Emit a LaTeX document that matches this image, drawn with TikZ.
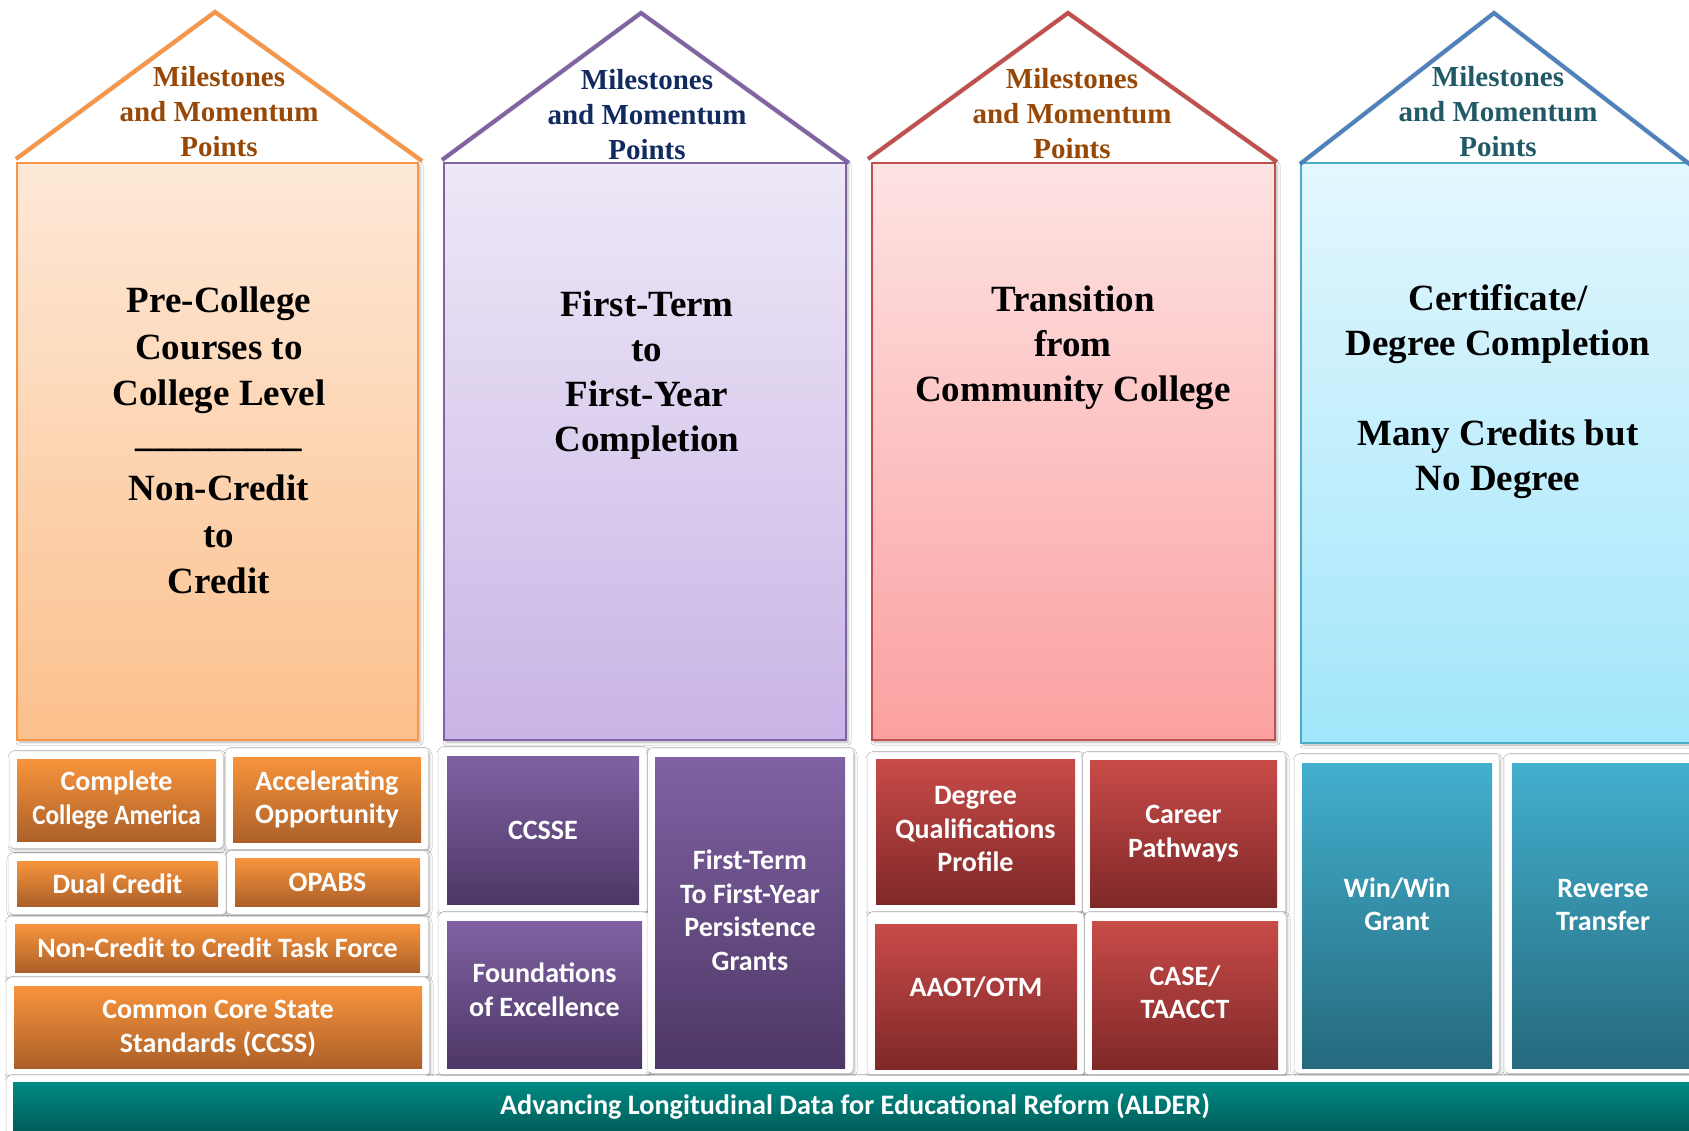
\documentclass[tikz,border=0pt]{standalone}
\usepackage{fontspec}
\setmainfont{Liberation Serif}
\newfontfamily\calfont{Carlito}
\newfontfamily\calcond[FakeStretch=0.9]{Carlito}
\usetikzlibrary{shadows.blur}
\definecolor{orRoof}{HTML}{F79646}
\definecolor{orTop}{HTML}{FEE9D8}
\definecolor{orBot}{HTML}{FBC08C}
\definecolor{puRoof}{HTML}{8064A2}
\definecolor{puTop}{HTML}{EEE8F7}
\definecolor{puBot}{HTML}{C8B4E6}
\definecolor{reRoof}{HTML}{C0504D}
\definecolor{reTop}{HTML}{FEE3E3}
\definecolor{reBot}{HTML}{FBA0A0}
\definecolor{blRoof}{HTML}{4F81BD}
\definecolor{blBorder}{HTML}{4BACC6}
\definecolor{blTop}{HTML}{E3F7FE}
\definecolor{blBot}{HTML}{A2E6FB}
\definecolor{brownTxt}{HTML}{974806}
\definecolor{navyTxt}{HTML}{112B61}
\definecolor{tealTxt}{HTML}{215967}
\definecolor{oT}{HTML}{F8943C}
\definecolor{oB}{HTML}{AC6029}
\definecolor{pT}{HTML}{8062A3}
\definecolor{pB}{HTML}{4D3766}
\definecolor{rT}{HTML}{C84B48}
\definecolor{rB}{HTML}{7F2828}
\definecolor{bT}{HTML}{43AFCE}
\definecolor{bB}{HTML}{256A7D}
\definecolor{aT}{HTML}{008A84}
\definecolor{aB}{HTML}{005F5B}
\tikzset{
  roofline/.style={line width=4pt, line join=miter},
  roofshadow/.style={line width=5pt, black, opacity=0.12, shift={(1.5,3)}},
  housebox/.style={line width=2pt, inner sep=0pt, outer sep=0pt,
     blur shadow={shadow xshift=2pt, shadow yshift=-2pt, shadow blur radius=3pt, shadow opacity=30}},
  rooftext/.style={font={\bfseries\fontsize{29}{35}\selectfont}, align=center},
  maintext/.style={font={\bfseries\fontsize{37}{45}\selectfont}, align=center},
  panel/.style={fill=white, rounded corners=4pt, inner sep=0pt, outer sep=0pt,
     blur shadow={shadow xshift=1pt, shadow yshift=-1.5pt, shadow blur radius=3pt, shadow opacity=35}},
  bbox/.style={inner sep=0pt, outer sep=0pt, text=white, align=center,
     font={\calfont\bfseries\fontsize{28}{33.5}\selectfont}},
  btext/.style={inner sep=0pt, text=white, align=center,
     font={\calfont\bfseries\fontsize{28}{33.5}\selectfont}},
  obox/.style={bbox, top color=oT, bottom color=oB},
  pbox/.style={bbox, top color=pT, bottom color=pB},
  rbox/.style={bbox, top color=rT, bottom color=rB},
  tbox/.style={bbox, top color=bT, bottom color=bB},
  abox/.style={bbox, top color=aT, bottom color=aB, font={\calfont\bfseries\fontsize{28.2}{32}\selectfont}},
}
\begin{document}
\begin{tikzpicture}[x=1pt,y=-1pt]
\useasboundingbox (0,0) rectangle (1689,1131);
\clip (0,0) rectangle (1689,1131);
\fill[white] (0,0) rectangle (1689,1131);

% ---------- house bodies ----------
\node[housebox, draw=orRoof, top color=orTop, bottom color=orBot, minimum width=401, minimum height=577] (h1) at (217.5,451.5) {};
\node[housebox, draw=puRoof, top color=puTop, bottom color=puBot, minimum width=402, minimum height=577] (h2) at (645,451.5) {};
\node[housebox, draw=reRoof, top color=reTop, bottom color=reBot, minimum width=403, minimum height=577] (h3) at (1073.5,451.5) {};
\node[housebox, draw=blBorder, top color=blTop, bottom color=blBot, minimum width=402, minimum height=580] (h4) at (1502,453) {};

% ---------- roofs ----------
\coordinate (r1a) at (16,159);  \coordinate (r1t) at (215,12);  \coordinate (r1b) at (422,161);
\coordinate (r2a) at (442,160); \coordinate (r2t) at (641,13);  \coordinate (r2b) at (849,163);
\coordinate (r3a) at (868,159); \coordinate (r3t) at (1068,13); \coordinate (r3b) at (1277,162);
\coordinate (r4a) at (1300,164);\coordinate (r4t) at (1494,13); \coordinate (r4b) at (1692,166);
\draw[roofshadow] (r1a) -- (r1t) -- (r1b);
\draw[roofshadow] (r2a) -- (r2t) -- (r2b);
\draw[roofshadow] (r3a) -- (r3t) -- (r3b);
\draw[roofshadow] (r4a) -- (r4t) -- (r4b);
\draw[roofline, orRoof] (r1a) -- (r1t) -- (r1b);
\draw[roofline, puRoof] (r2a) -- (r2t) -- (r2b);
\draw[roofline, reRoof] (r3a) -- (r3t) -- (r3b);
\draw[roofline, blRoof] (r4a) -- (r4t) -- (r4b);

\node[rooftext, text=brownTxt] (t1) at (219,112) {Milestones\\and Momentum\\Points};
\node[rooftext, text=navyTxt] (t2) at (647,115) {Milestones\\and Momentum\\Points};
\node[rooftext, text=brownTxt] (t3) at (1072,114) {Milestones\\and Momentum\\Points};
\node[rooftext, text=tealTxt] (t4) at (1498,112) {Milestones\\and Momentum\\Points};

% ---------- main texts ----------
\node[maintext, font={\bfseries\fontsize{37}{46.3}\selectfont}] (m1) at (219,440.5) {Pre-College\\Courses to\\College Level\\[-5pt]\_\_\_\_\_\_\_\_\_\\[8pt]Non-Credit\\to\\Credit};
\node[maintext] (m2) at (647,375) {First-Term\\to\\First-Year\\Completion};
\node[maintext] (m3) at (1073,348) {Transition\\from\\Community College};
\node[maintext, font={\bfseries\fontsize{37}{45}\selectfont}] (m4) at (1498,392) {Certificate/\\Degree Completion\\[45pt]Many Credits but\\No Degree};

% ---------- panels ----------
\node[panel, minimum width=213, minimum height=96] (p1) at (116.5,800) {};
\node[panel, minimum width=202, minimum height=101] (p2) at (327,799.5) {};
\node[panel, minimum width=217, minimum height=60] (p3) at (117.5,884) {};
\node[panel, minimum width=201, minimum height=63] (p4) at (327.5,882.5) {};
\node[panel, minimum width=421, minimum height=61] (p5) at (217.5,947.5) {};
\node[panel, minimum width=422, minimum height=98] (p6) at (218,1027) {};
\node[panel, minimum width=208, minimum height=165] (p7) at (543,830.5) {};
\node[panel, minimum width=211, minimum height=162] (p8) at (544.5,994) {};
\node[panel, minimum width=205, minimum height=324] (p9) at (750.5,911) {};
\node[panel, minimum width=214, minimum height=160] (p10) at (975,833) {};
\node[panel, minimum width=202, minimum height=161] (p11) at (1184,833.5) {};
\node[panel, minimum width=216, minimum height=162] (p12) at (976,994) {};
\node[panel, minimum width=201, minimum height=162] (p13) at (1185.5,994) {};
\node[panel, minimum width=204, minimum height=318] (p14) at (1397,914) {};
\node[panel, minimum width=205, minimum height=318] (p15) at (1607.5,914) {};
\node[panel, minimum width=1703, minimum height=58] (pa) at (858.5,1105) {};

% ---------- orange items ----------
\node[obox, minimum width=199, minimum height=82] (cca) at (116.5,800) {Complete\\{\calcond\bfseries College America}};
\node[obox, minimum width=188, minimum height=85] (ao) at (327,799.5) {Accelerating\\Opportunity};
\node[obox, minimum width=201, minimum height=45] (dc) at (117.5,883.5) {Dual Credit};
\node[obox, minimum width=185, minimum height=48] (opabs) at (327.5,882) {OPABS};
\node[obox, minimum width=405, minimum height=48] (nctf) at (217.5,948) {Non-Credit to Credit Task Force};
\node[obox, minimum width=408, minimum height=82] (ccss) at (218,1027) {};
\node[btext] (ccsst) at (218,1028.5) {Common Core State\\Standards (CCSS)};

% ---------- purple items ----------
\node[pbox, minimum width=192, minimum height=148] (ccsse) at (543,830) {CCSSE};
\node[pbox, minimum width=195, minimum height=147] (foe) at (544.5,994.5) {};
\node[btext] (foet) at (544.5,990) {Foundations\\of Excellence};
\node[pbox, minimum width=190, minimum height=311] (ftg) at (750,912.5) {};
\node[btext] (ftgt) at (750,910.5) {First-Term\\To First-Year\\Persistence\\Grants};

% ---------- red items ----------
\node[rbox, minimum width=199, minimum height=145] (dqp) at (975.5,831.5) {};
\node[btext] (dqpt) at (975.5,829.5) {Degree\\Qualifications\\Profile};
\node[rbox, minimum width=187, minimum height=147] (cp) at (1183.5,833.5) {Career\\Pathways};
\node[rbox, minimum width=202, minimum height=145] (aaot) at (976,996.5) {};
\node[btext] (aaott) at (976,987) {AAOT/OTM};
\node[rbox, minimum width=186, minimum height=148] (case) at (1185,995) {};
\node[btext] (caset) at (1185,992.5) {CASE/\\TAACCT};

% ---------- blue items ----------
\node[tbox, minimum width=190, minimum height=305] (ww) at (1397,915.5) {};
\node[btext] (wwt) at (1397,904.5) {Win/Win\\Grant};
\node[tbox, minimum width=182, minimum height=305] (rt) at (1603,915.5) {};
\node[btext] (rtt) at (1603,905) {Reverse\\Transfer};

% ---------- ALDER bar ----------
\node[abox, minimum width=1684, minimum height=48] (alder) at (855,1106) {Advancing Longitudinal Data for Educational Reform (ALDER)};
\end{tikzpicture}
\end{document}
